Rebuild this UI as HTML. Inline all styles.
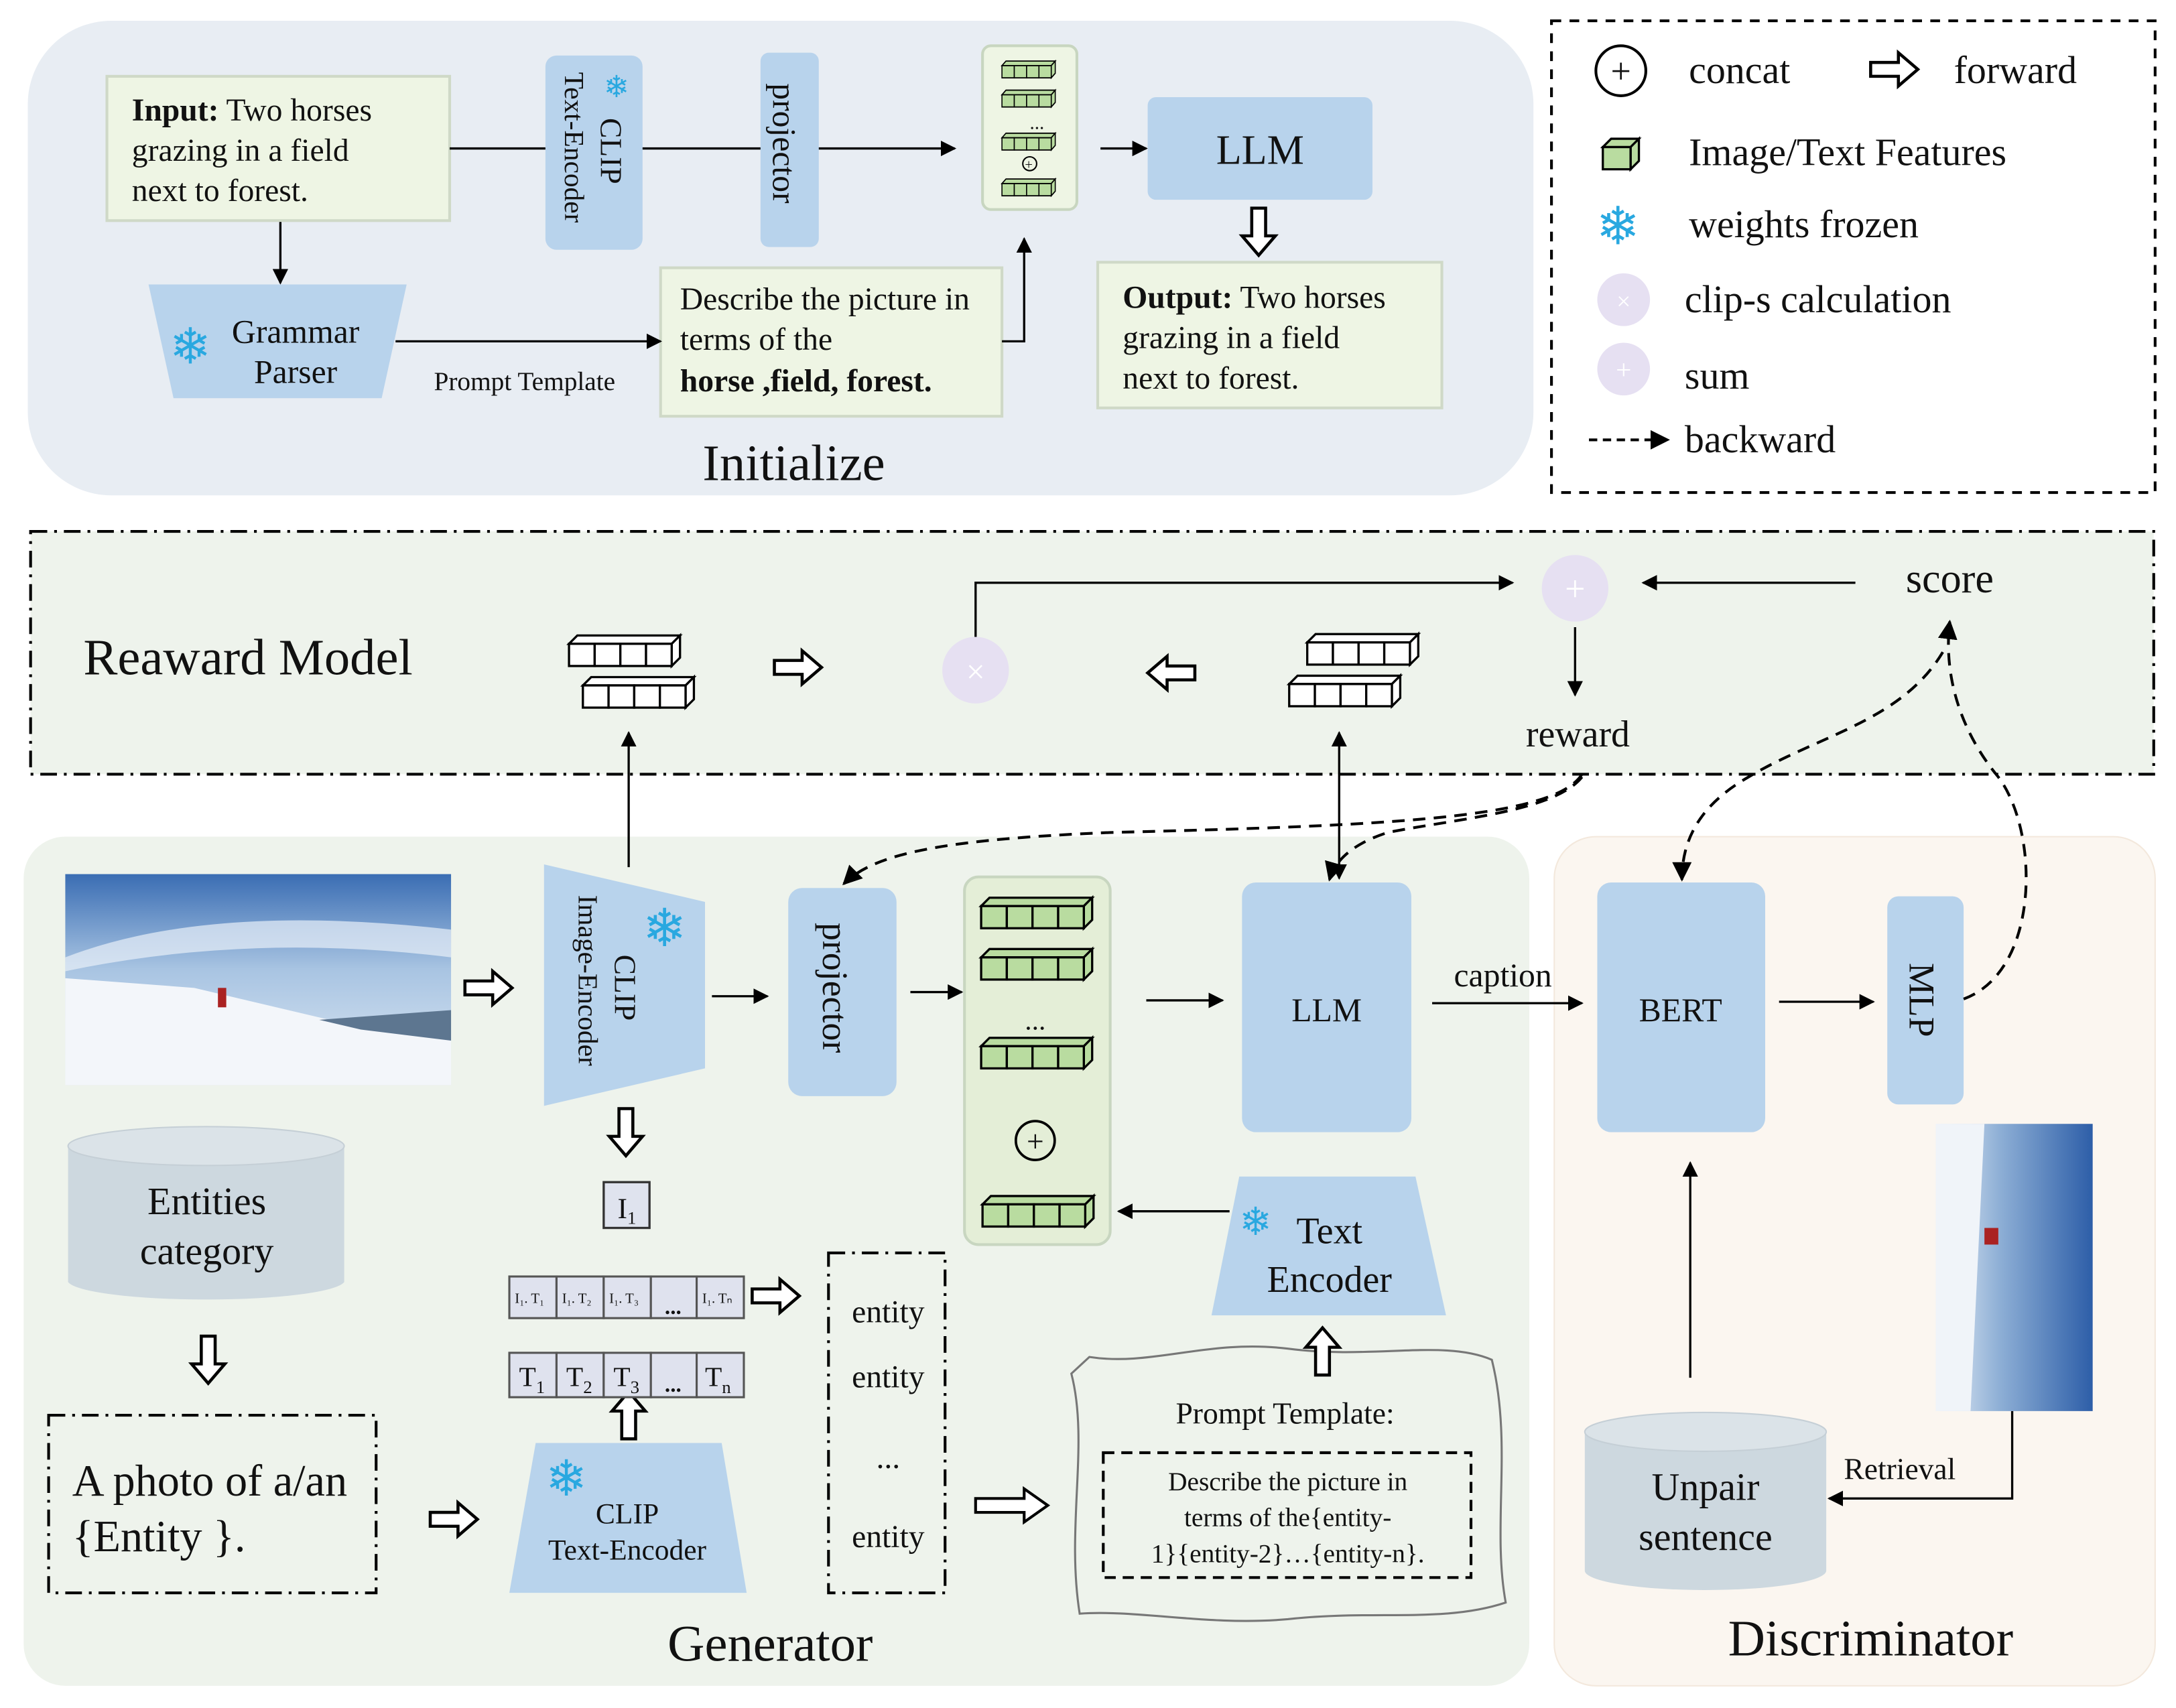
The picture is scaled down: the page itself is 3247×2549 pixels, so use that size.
<!DOCTYPE html>
<html><head><meta charset="utf-8"><style>
html,body{margin:0;padding:0;background:#fff}
svg{display:block}
text{font-family:"Liberation Serif",serif;fill:#111}
</style></head><body>
<svg width="3247" height="2549" viewBox="0 0 1568 1231" xmlns="http://www.w3.org/2000/svg">
<defs>
<marker id="ah" viewBox="0 0 10 10" refX="9" refY="5" markerWidth="7" markerHeight="7" orient="auto-start-reverse"><path d="M0,0L10,5L0,10z" fill="#000"/></marker>
<symbol id="ha" viewBox="-1 -14 37 28" overflow="visible"><polygon points="0,-5 20,-5 20,-12 34,0 20,12 20,5 0,5" fill="#fff" stroke="#000" stroke-width="2.2"/></symbol>
<g id="stk" stroke="#000" stroke-width="1.6">
<polygon points="0,6 6,0 80,0 74,6"/><polygon points="74,6 80,0 80,16 74,22"/>
<rect x="0" y="6" width="18.5" height="16"/><rect x="18.5" y="6" width="18.5" height="16"/><rect x="37" y="6" width="18.5" height="16"/><rect x="55.5" y="6" width="18.5" height="16"/>
</g>
<linearGradient id="sky" x1="0" y1="0" x2="0" y2="1"><stop offset="0" stop-color="#3a6db3"/><stop offset="0.45" stop-color="#a8c4e2"/><stop offset="1" stop-color="#dfe9f4"/></linearGradient>
<linearGradient id="sky2" x1="0" y1="0" x2="1" y2="0"><stop offset="0" stop-color="#e8eef6"/><stop offset="0.4" stop-color="#8fb0d6"/><stop offset="1" stop-color="#2d5ea8"/></linearGradient>
</defs>

<!-- Initialize panel -->
<rect x="20" y="15" width="1085" height="342" rx="60" fill="#e8edf3"/>
<rect x="77" y="55" width="247" height="104" fill="#eef5e4" stroke="#cfd9c7" stroke-width="2"/>
<text x="95" y="87" font-size="23"><tspan font-weight="bold">Input:</tspan> Two horses</text>
<text x="95" y="116" font-size="23">grazing in a field</text>
<text x="95" y="145" font-size="23">next to forest.</text>
<rect x="393" y="40" width="70" height="140" rx="8" fill="#b8d3ec"/>
<text transform="translate(433,85) rotate(90)" font-size="22">CLIP</text>
<text transform="translate(407,52) rotate(90)" font-size="20">Text-Encoder</text>
<text x="435" y="70" font-size="22" style="fill:#29a8e0">❄</text>
<rect x="548" y="38" width="42" height="140" rx="6" fill="#b8d3ec"/>
<text transform="translate(557,60) rotate(90)" font-size="24">projector</text>
<rect x="708" y="33" width="68" height="118" rx="6" fill="#eef5e4" stroke="#c8d6c0" stroke-width="2"/>
<use href="#stk" transform="translate(722,44) scale(0.48,0.55)" fill="#b9dca0"/>
<use href="#stk" transform="translate(722,65) scale(0.48,0.55)" fill="#b9dca0"/>
<text x="742" y="93" font-size="14">...</text>
<circle cx="742" cy="118" r="5" fill="none" stroke="#000" stroke-width="1"/><text x="738.5" y="122" font-size="10">+</text>
<use href="#stk" transform="translate(722,96) scale(0.48,0.55)" fill="#b9dca0"/>
<use href="#stk" transform="translate(722,129) scale(0.48,0.55)" fill="#b9dca0"/>
<rect x="827" y="70" width="162" height="74" rx="6" fill="#b8d3ec"/>
<text x="908" y="118" font-size="30" text-anchor="middle">LLM</text>
<rect x="791" y="189" width="248" height="105" fill="#eef5e4" stroke="#cfd9c7" stroke-width="2"/>
<text x="809" y="222" font-size="23"><tspan font-weight="bold">Output:</tspan> Two horses</text>
<text x="809" y="251" font-size="23">grazing in a field</text>
<text x="809" y="280" font-size="23">next to forest.</text>
<polygon points="107,205 293,205 275,287 125,287" fill="#b8d3ec"/>
<text x="122" y="262" font-size="36" style="fill:#29a8e0">❄</text>
<text x="213" y="247" font-size="24" text-anchor="middle">Grammar</text>
<text x="213" y="276" font-size="24" text-anchor="middle">Parser</text>
<rect x="476" y="193" width="246" height="107" fill="#eef5e4" stroke="#cfd9c7" stroke-width="2"/>
<text x="490" y="223" font-size="23">Describe the picture in</text>
<text x="490" y="252" font-size="23">terms of the</text>
<text x="490" y="282" font-size="23" font-weight="bold">horse ,field, forest.</text>
<text x="378" y="281" font-size="19" text-anchor="middle">Prompt Template</text>
<text x="572" y="346" font-size="37" text-anchor="middle">Initialize</text>
<g stroke="#000" stroke-width="1.6" fill="none">
<line x1="324" y1="107" x2="393" y2="107"/><line x1="463" y1="107" x2="548" y2="107"/>
<line x1="590" y1="107" x2="688" y2="107" marker-end="url(#ah)"/>
<line x1="793" y1="107" x2="826" y2="107" marker-end="url(#ah)"/>
<line x1="202" y1="160" x2="202" y2="204" marker-end="url(#ah)"/>
<line x1="285" y1="246" x2="476" y2="246" marker-end="url(#ah)"/>
<polyline points="722,246 738,246 738,172" marker-end="url(#ah)"/>
</g>
<use href="#ha" x="0" y="0" width="37" height="28" transform="translate(921,149) rotate(90)"/>

<!-- Legend -->
<rect x="1118" y="15" width="435" height="340" fill="none" stroke="#000" stroke-width="2" stroke-dasharray="7,6"/>
<circle cx="1168" cy="51" r="18" fill="#fff" stroke="#000" stroke-width="2"/>
<text x="1168" y="60" font-size="26" text-anchor="middle">+</text>
<text x="1217" y="60" font-size="28">concat</text>
<use href="#ha" x="0" y="0" width="37" height="28" transform="translate(1347,36)"/>
<text x="1408" y="60" font-size="28">forward</text>
<g transform="translate(1155,100)"><polygon points="0,6 6,0 26,0 20,6" fill="#b9dca0" stroke="#000" stroke-width="1.6"/><polygon points="20,6 26,0 26,16 20,22" fill="#b9dca0" stroke="#000" stroke-width="1.6"/><rect x="0" y="6" width="20" height="16" fill="#b9dca0" stroke="#000" stroke-width="1.6"/></g>
<text x="1217" y="119" font-size="28">Image/Text Features</text>
<text x="1150" y="176" font-size="38" style="fill:#29a8e0">❄</text>
<text x="1217" y="171" font-size="28">weights frozen</text>
<circle cx="1170" cy="216" r="19" fill="#e6e0f2"/><text x="1170" y="223" font-size="18" text-anchor="middle" style="fill:#fff">×</text>
<text x="1214" y="225" font-size="28">clip-s calculation</text>
<circle cx="1170" cy="266" r="19" fill="#e6e0f2"/><text x="1170" y="273" font-size="20" text-anchor="middle" style="fill:#fff">+</text>
<text x="1214" y="280" font-size="28">sum</text>
<line x1="1145" y1="317" x2="1202" y2="317" stroke="#000" stroke-width="2" stroke-dasharray="6,4" marker-end="url(#ah)"/>
<text x="1214" y="326" font-size="28">backward</text>

<!-- Reward model -->
<rect x="22" y="383" width="1530" height="175" fill="#eef3ec" stroke="#000" stroke-width="2" stroke-dasharray="12,5,2,5"/>
<text x="60" y="486" font-size="37">Reaward Model</text>
<use href="#stk" transform="translate(410,458)" fill="#fff"/>
<use href="#stk" transform="translate(420,488)" fill="#fff"/>
<use href="#ha" x="0" y="0" width="37" height="28" transform="translate(557,467)"/>
<circle cx="703" cy="483" r="24" fill="#e6e0f2"/><text x="703" y="492" font-size="24" text-anchor="middle" style="fill:#fff">×</text>
<use href="#ha" x="0" y="0" width="37" height="28" transform="translate(862,499) rotate(180)"/>
<use href="#stk" transform="translate(942,457)" fill="#fff"/>
<use href="#stk" transform="translate(929,487)" fill="#fff"/>
<circle cx="1135" cy="424" r="24" fill="#e6e0f2"/><text x="1135" y="433" font-size="26" text-anchor="middle" style="fill:#fff">+</text>
<g stroke="#000" stroke-width="1.6" fill="none">
<polyline points="703,459 703,420 1090,420" marker-end="url(#ah)"/>
<line x1="1337" y1="420" x2="1184" y2="420" marker-end="url(#ah)"/>
<line x1="1135" y1="452" x2="1135" y2="501" marker-end="url(#ah)"/>
</g>
<text x="1137" y="538" font-size="27" text-anchor="middle">reward</text>
<text x="1405" y="427" font-size="30" text-anchor="middle">score</text>

<!-- Generator panel -->
<rect x="17" y="603" width="1085" height="612" rx="30" fill="#eef3ec"/>
<rect x="1120" y="603" width="433" height="612" rx="30" fill="#fbf6f0" stroke="#f3e8dc" stroke-width="1"/>

<!-- image 1 -->
<rect x="47" y="630" width="278" height="152" fill="url(#sky)"/>
<path d="M47,690 Q150,650 325,670 L325,690 Q180,672 47,700 Z" fill="#e8f0f8" opacity="0.7"/>
<polygon points="47,705 140,712 250,738 325,745 325,782 47,782" fill="#f3f6fa"/>
<polygon points="230,735 325,728 325,750 260,742" fill="#5d7690"/>
<rect x="157" y="712" width="6" height="14" fill="#a22"/>
<use href="#ha" x="0" y="0" width="37" height="28" transform="translate(334,698)"/>
<polygon points="392,623 508,650 508,770 392,797" fill="#b8d3ec"/>
<text transform="translate(443,688) rotate(90)" font-size="22">CLIP</text>
<text transform="translate(417,645) rotate(90)" font-size="20">Image-Encoder</text>
<text x="463" y="682" font-size="38" style="fill:#29a8e0">❄</text>
<rect x="568" y="640" width="78" height="150" rx="10" fill="#b8d3ec"/>
<text transform="translate(593,665) rotate(90)" font-size="26">projector</text>
<rect x="695" y="632" width="105" height="265" rx="10" fill="#e4eed7" stroke="#c8d6c0" stroke-width="2"/>
<use href="#stk" transform="translate(707,647)" fill="#b9dca0"/>
<use href="#stk" transform="translate(707,684)" fill="#b9dca0"/>
<text x="746" y="742" font-size="20" text-anchor="middle">...</text>
<use href="#stk" transform="translate(707,748)" fill="#b9dca0"/>
<circle cx="746" cy="822" r="14" fill="none" stroke="#000" stroke-width="1.8"/><text x="746" y="830" font-size="22" text-anchor="middle">+</text>
<use href="#stk" transform="translate(708,862)" fill="#b9dca0"/>
<rect x="895" y="636" width="122" height="180" rx="10" fill="#b8d3ec"/>
<text x="956" y="736" font-size="24" text-anchor="middle">LLM</text>
<text x="1083" y="711" font-size="24" text-anchor="middle">caption</text>
<rect x="1151" y="636" width="121" height="180" rx="10" fill="#b8d3ec"/>
<text x="1211" y="736" font-size="24" text-anchor="middle">BERT</text>
<rect x="1360" y="646" width="55" height="150" rx="8" fill="#b8d3ec"/>
<text transform="translate(1376,694) rotate(90)" font-size="26">MLP</text>
<g stroke="#000" stroke-width="1.6" fill="none">
<line x1="453" y1="625" x2="453" y2="528" marker-end="url(#ah)"/>
<line x1="513" y1="718" x2="553" y2="718" marker-end="url(#ah)"/>
<line x1="656" y1="715" x2="693" y2="715" marker-end="url(#ah)"/>
<line x1="826" y1="721" x2="881" y2="721" marker-end="url(#ah)"/>
<line x1="965" y1="528" x2="965" y2="633" marker-start="url(#ah)" marker-end="url(#ah)"/>
<line x1="1032" y1="723" x2="1140" y2="723" marker-end="url(#ah)"/>
<line x1="1282" y1="722" x2="1350" y2="722" marker-end="url(#ah)"/>
<line x1="1218" y1="993" x2="1218" y2="838" marker-end="url(#ah)"/>
<polyline points="1450,1017 1450,1080 1318,1080" marker-end="url(#ah)"/>
<line x1="886" y1="873" x2="806" y2="873" marker-end="url(#ah)"/>
</g>
<g stroke="#000" stroke-width="2" fill="none" stroke-dasharray="9,6">
<path d="M1415,720 C1470,700 1470,600 1440,560 C1415,530 1400,490 1405,448" marker-end="url(#ah)"/>
<path d="M1400,470 C1370,520 1310,530 1260,560 C1225,580 1212,605 1212,634" marker-end="url(#ah)"/>
<path d="M1140,558 C1120,590 1000,595 800,600 C680,605 630,615 608,637" marker-end="url(#ah)"/>
<path d="M1140,560 C1120,585 1050,590 1000,600 C975,608 962,620 958,634" marker-end="url(#ah)"/>
</g>
<use href="#ha" x="0" y="0" width="37" height="28" transform="translate(465,798) rotate(90)"/>
<rect x="435" y="852" width="33" height="33" fill="#dfe3ee" stroke="#333" stroke-width="1.6"/>
<text x="445" y="878" font-size="21">I<tspan font-size="13" dy="4">1</tspan></text>

<path d="M49,826 L49,924 A100,14 0 0 0 248,924 L248,826" fill="#cdd8df"/>
<ellipse cx="148.5" cy="826" rx="99.5" ry="14" fill="#dbe3e8" stroke="#c5cfd6"/>
<text x="149" y="875" font-size="28" text-anchor="middle">Entities</text>
<text x="149" y="911" font-size="28" text-anchor="middle">category</text>
<use href="#ha" x="0" y="0" width="37" height="28" transform="translate(164,962) rotate(90)"/>
<rect x="35" y="1020" width="236" height="128" fill="none" stroke="#000" stroke-width="2" stroke-dasharray="12,5,2,5"/>
<text x="52" y="1078" font-size="32">A photo of a/an</text>
<text x="52" y="1118" font-size="32">{Entity }.</text>
<use href="#ha" x="0" y="0" width="37" height="28" transform="translate(309,1081)"/>
<polygon points="386,1040 520,1040 538,1148 367,1148" fill="#b8d3ec"/>
<text x="393" y="1078" font-size="36" style="fill:#29a8e0">❄</text>
<text x="452" y="1098" font-size="21" text-anchor="middle">CLIP</text>
<text x="452" y="1124" font-size="21" text-anchor="middle">Text-Encoder</text>
<use href="#ha" x="0" y="0" width="37" height="28" transform="translate(439,1038) rotate(-90)"/>
<g fill="#dfe2ee" stroke="#555" stroke-width="1.5">
<rect x="367" y="920" width="34" height="30"/><rect x="401" y="920" width="34" height="30"/><rect x="435" y="920" width="34" height="30"/><rect x="469" y="920" width="33" height="30"/><rect x="502" y="920" width="34" height="30"/>
<rect x="367" y="975" width="34" height="32"/><rect x="401" y="975" width="34" height="32"/><rect x="435" y="975" width="34" height="32"/><rect x="469" y="975" width="33" height="32"/><rect x="502" y="975" width="34" height="32"/>
</g>
<g font-size="10">
<text x="371" y="939">I₁. T₁</text><text x="405" y="939">I₁. T₂</text><text x="439" y="939">I₁. T₃</text><text x="506" y="939">I₁. Tₙ</text>
</g>
<text x="485" y="947" font-size="16" text-anchor="middle" font-weight="bold">...</text>
<g font-size="20"><text x="374" y="999">T<tspan font-size="13" dy="5">1</tspan></text><text x="408" y="999">T<tspan font-size="13" dy="5">2</tspan></text><text x="442" y="999">T<tspan font-size="13" dy="5">3</tspan></text><text x="508" y="999">T<tspan font-size="13" dy="5">n</tspan></text></g>
<text x="485" y="1003" font-size="16" text-anchor="middle" font-weight="bold">...</text>
<use href="#ha" x="0" y="0" width="37" height="28" transform="translate(541,920)"/>
<rect x="597" y="903" width="84" height="245" fill="none" stroke="#000" stroke-width="2" stroke-dasharray="12,5,2,5"/>
<g font-size="23" text-anchor="middle"><text x="640" y="953">entity</text><text x="640" y="1000">entity</text><text x="640" y="1058">...</text><text x="640" y="1115">entity</text></g>
<polygon points="703,1080 738,1080 738,1073 755,1085 738,1097 738,1090 703,1090" fill="#fff" stroke="#000" stroke-width="2"/>
<path d="M785,978 C830,985 870,965 928,972 C990,980 1040,965 1075,980 C1090,1040 1075,1100 1085,1155 C1040,1170 990,1160 928,1167 C870,1172 820,1160 778,1163 C768,1100 785,1040 772,990 Z" fill="none" stroke="#777" stroke-width="1.5"/>
<text x="926" y="1026" font-size="22" text-anchor="middle">Prompt Template:</text>
<rect x="795" y="1047" width="265" height="90" fill="none" stroke="#000" stroke-width="2" stroke-dasharray="8,5"/>
<g font-size="19" text-anchor="middle"><text x="928" y="1074">Describe the picture in</text><text x="928" y="1100">terms of the{entity-</text><text x="928" y="1126">1}{entity-2}…{entity-n}.</text></g>
<polygon points="893,848 1020,848 1042,948 873,948" fill="#b8d3ec"/>
<text x="893" y="890" font-size="28" style="fill:#29a8e0">❄</text>
<text x="958" y="896" font-size="27" text-anchor="middle">Text</text>
<text x="958" y="931" font-size="27" text-anchor="middle">Encoder</text>
<use href="#ha" x="0" y="0" width="37" height="28" transform="translate(939,992) rotate(-90)"/>
<text x="555" y="1197" font-size="37" text-anchor="middle">Generator</text>

<rect x="1395" y="810" width="113" height="207" fill="url(#sky2)"/>
<polygon points="1395,810 1430,810 1420,1017 1395,1017" fill="#f0f4f9"/>
<rect x="1430" y="885" width="10" height="12" fill="#a22"/>
<path d="M1142,1032 L1142,1132 A87,14 0 0 0 1316,1132 L1316,1032" fill="#cdd8df"/>
<ellipse cx="1229" cy="1032" rx="87" ry="14" fill="#dbe3e8" stroke="#c5cfd6"/>
<text x="1229" y="1081" font-size="28" text-anchor="middle">Unpair</text>
<text x="1229" y="1117" font-size="28" text-anchor="middle">sentence</text>
<text x="1369" y="1066" font-size="22" text-anchor="middle">Retrieval</text>
<text x="1348" y="1193" font-size="37" text-anchor="middle">Discriminator</text>
</svg>
</body></html>
